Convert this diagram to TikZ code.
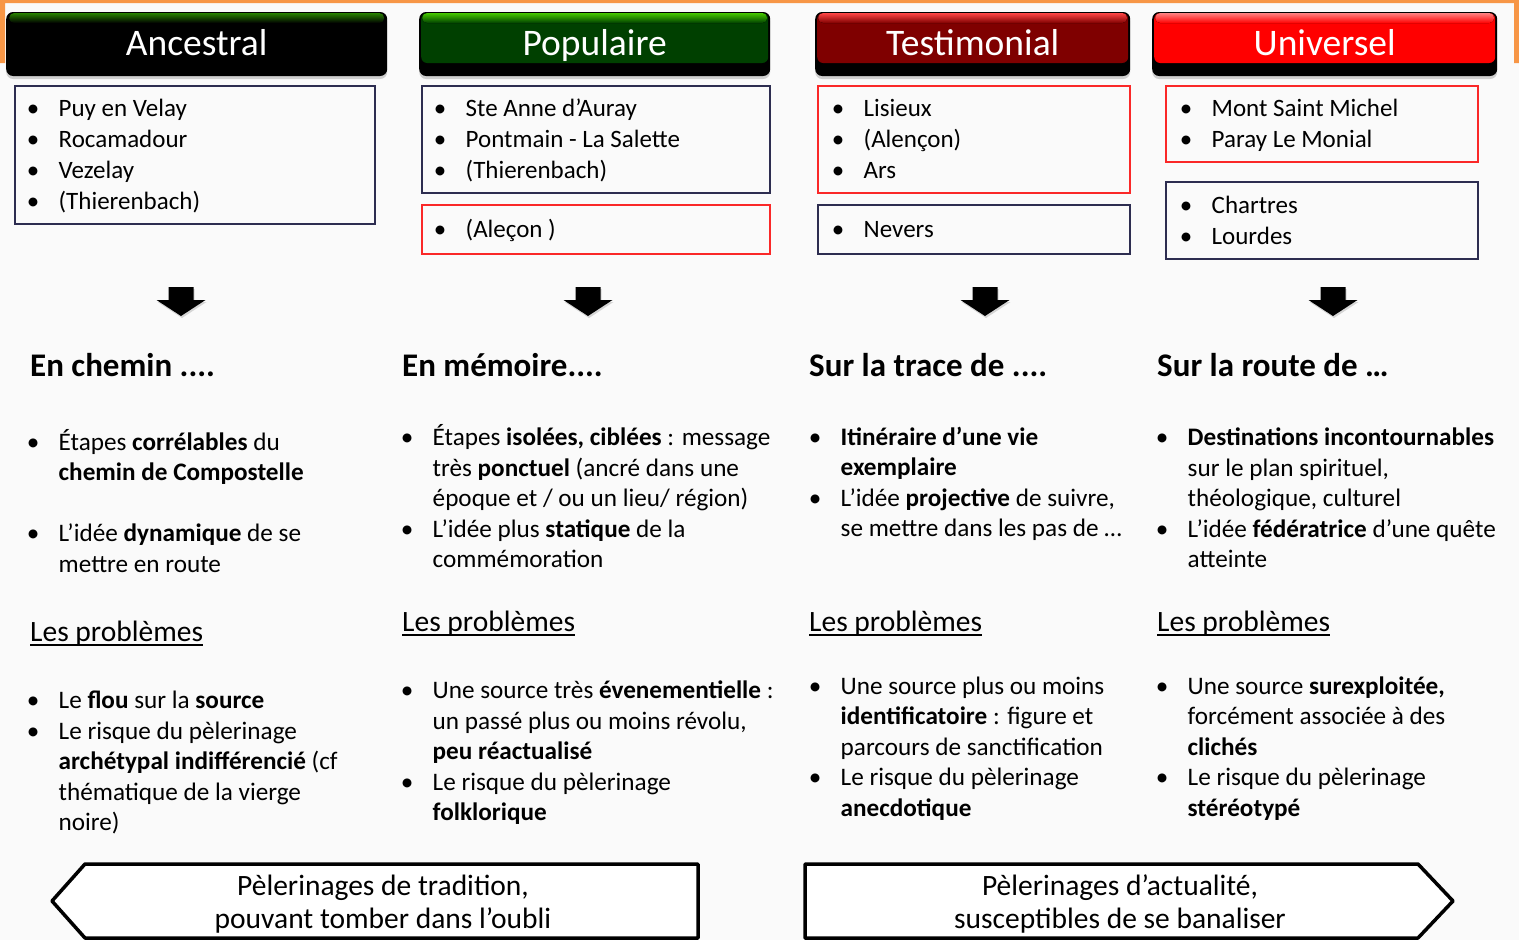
\documentclass[tikz,border=0pt]{standalone}
\usepackage{fontspec}
\setmainfont{Carlito}
\usepackage{xcolor}
\definecolor{frameorange}{RGB}{247,150,70}
\definecolor{slidegray}{RGB}{250,250,250}
\definecolor{boxnavy}{RGB}{45,45,80}
\definecolor{boxred}{RGB}{250,40,40}
\definecolor{ancestralhi}{RGB}{40,130,0}
\definecolor{populairehi}{RGB}{70,200,0}
\definecolor{populairebody}{RGB}{0,64,0}
\definecolor{testimonialhi}{RGB}{255,70,70}
\definecolor{testimonialbody}{RGB}{127,0,0}
\definecolor{universelhi}{RGB}{255,130,130}
\definecolor{universelbody}{RGB}{255,0,0}
\usepackage{tikz}
\usetikzlibrary{shadows}
\newlength{\bulletgap}
\setlength{\bulletgap}{25.5pt}
\newcommand{\itm}{\makebox[\bulletgap][l]{\makebox[0pt]{\textbullet}}}
\newcommand{\lst}[1]{\begin{tabular}{@{}l@{}l@{}}#1\end{tabular}}
\newcommand{\undl}[1]{\setbox0\hbox{#1}\rlap{\rule[-4.5pt]{\wd0}{1.6pt}}\box0}
\newcommand{\hdrfont}{\fontsize{37.5}{40}\selectfont}
\newcommand{\sitefont}{\fontsize{25}{31}\selectfont}
\newcommand{\bodyfont}{\fontsize{25.2}{30.5}\selectfont}
\newcommand{\ttlfont}{\fontsize{33}{36}\selectfont\bfseries}
\newcommand{\prbfont}{\fontsize{29.5}{33}\selectfont}
\newcommand{\bannerfont}{\fontsize{29.5}{33}\selectfont}
\tikzset{
    hdr/.style 2 args={anchor=west, fill=black, rounded corners=7, minimum height=64, inner sep=0,
        text=white, font=\hdrfont, text height=23.5pt, text depth=0pt,
        drop shadow={shadow xshift=0pt, shadow yshift=-3pt, opacity=.35},
        path picture={
            \fill[#2, rounded corners=6]
                ([xshift=2pt,yshift=-1pt]path picture bounding box.north west) rectangle ([xshift=-2pt,yshift=13pt]path picture bounding box.south east);
            \fill[top color=#1, bottom color=#2, rounded corners=5]
                ([xshift=3pt,yshift=-1pt]path picture bounding box.north west) rectangle ([xshift=-3pt,yshift=-11pt]path picture bounding box.north east);
        }},
    site/.style={draw=boxnavy, line width=1.6pt, anchor=north west, inner sep=0},
    sitered/.style={site, draw=boxred},
    sitelist/.style={anchor=west, inner sep=0, font=\sitefont, yshift=-2pt},
    ttl/.style={anchor=west, inner sep=0, font=\ttlfont},
    lst/.style={anchor=west, inner sep=0, font=\bodyfont},
    prb/.style={anchor=base west, inner sep=0, font=\prbfont},
    banner/.style={draw=black, fill=white, line width=3.5pt, line join=round},
    bannertext/.style={align=center, font=\bannerfont, inner sep=0},
    downarrow/.style={fill=black, drop shadow={shadow xshift=1pt, shadow yshift=-2pt, opacity=.3}}
}

\begin{document}
\begin{tikzpicture}[x=1pt, y=-1pt]
              \useasboundingbox (0,0) rectangle (1519,940);
              \fill[slidegray] (0,0) rectangle (1519,940);
              \fill[frameorange] (0,0) rectangle (1519,3) (0,0) rectangle (5,63) (1514,0) rectangle (1519,63);

              \path
                  (6,44) node[hdr={ancestralhi}{black}, minimum width=381] (HA) {Ancestral}
                  (419,44) node[hdr={populairehi}{populairebody}, minimum width=351] (HP) {Populaire}
                  (815,44) node[hdr={testimonialhi}{testimonialbody}, minimum width=315] (HT) {Testimonial}
                  (1152,44) node[hdr={universelhi}{universelbody}, minimum width=345] (HU) {Universel};

              \path
                  (14,85) node[site, minimum width=360, minimum height=138] (BA) {}
                  (421,85) node[site, minimum width=348, minimum height=107] (BP) {}
                  ++(0,119) node[sitered, minimum width=348, minimum height=49] (BP2) {}
                  (817,85) node[sitered, minimum width=312, minimum height=107] (BT) {}
                  ++(0,119) node[site, minimum width=312, minimum height=49] (BT2) {}
                  (1165,85) node[sitered, minimum width=312, minimum height=76] (BU) {}
                  ++(0,96) node[site, minimum width=312, minimum height=77] (BU2) {};

              \node[sitelist] (LA) at ([xshift=19pt]BA.west) {\lst{\itm & Puy en Velay\\ \itm & Rocamadour\\ \itm & Vezelay\\ \itm & (Thierenbach)}};
              \node[sitelist] (LP) at ([xshift=19pt]BP.west) {\lst{\itm & Ste Anne d’Auray\\ \itm & Pontmain - La Salette\\ \itm & (Thierenbach)}};
              \node[sitelist] (LP2) at ([xshift=19pt]BP2.west) {\lst{\itm & (Aleçon )}};
              \node[sitelist] (LT) at ([xshift=21pt]BT.west) {\lst{\itm & Lisieux\\ \itm & (Alençon)\\ \itm & Ars}};
              \node[sitelist] (LT2) at ([xshift=21pt]BT2.west) {\lst{\itm & Nevers}};
              \node[sitelist] (LU) at ([xshift=21pt]BU.west) {\lst{\itm & Mont Saint Michel\\ \itm & Paray Le Monial}};
              \node[sitelist] (LU2) at ([xshift=21pt]BU2.west) {\lst{\itm & Chartres\\ \itm & Lourdes}};

              \foreach \cx in {181,588,985,1333}
                  \fill[downarrow] (\cx-12.5,287) -- (\cx+12.5,287) -- (\cx+12.5,300) -- (\cx+24.5,300)
                      -- (\cx,316) -- (\cx-24.5,300) -- (\cx-12.5,300) -- cycle;

              \path
                  (30,365) node[ttl] (TA) {En chemin ....}
                  ++(3,140) node[lst] (IA) {\lst{\itm & Étapes \textbf{corrélables} du\\ & \textbf{chemin de Compostelle}\\ & \\
                      \itm & L’idée \textbf{dynamique} de se\\ & mettre en route}}
                  ++(-3,136.5) node[prb] (RA) {\undl{Les problèmes}}
                  ++(3,122) node[lst] (QA) {\lst{\itm & Le \textbf{flou} sur la \textbf{source}\\ \itm & Le risque du pèlerinage\\
                      & \textbf{archétypal indifférencié} (cf\\ & thématique de la vierge\\ & noire)}};

              \path
                  (402,365) node[ttl] (TP) {En mémoire....}
                  ++(5,135.5) node[lst] (IP) {\lst{\itm & Étapes \textbf{isolées, ciblées} : message\\ & très \textbf{ponctuel} (ancré dans une\\
                      & époque et / ou un lieu/ région)\\ \itm & L’idée plus \textbf{statique} de la\\ & commémoration}}
                  ++(-5,131) node[prb] (RP) {\undl{Les problèmes}}
                  ++(5,122) node[lst] (QP) {\lst{\itm & Une source très \textbf{évenementielle} :\\ & un passé plus ou moins révolu,\\
                      & \textbf{peu réactualisé}\\ \itm & Le risque du pèlerinage\\ & \textbf{folklorique}}};

              \path
                  (809,365) node[ttl] (TT) {Sur la trace de ....}
                  ++(6,120) node[lst] (IT) {\lst{\itm & \textbf{Itinéraire d’une vie}\\ & \textbf{exemplaire}\\
                      \itm & L’idée \textbf{projective} de suivre,\\ & se mettre dans les pas de …}}
                  ++(-6,146.5) node[prb] (RT) {\undl{Les problèmes}}
                  ++(6,117.5) node[lst] (QT) {\lst{\itm & Une source plus ou moins\\ & \textbf{identificatoire} : figure et\\
                      & parcours de sanctification\\ \itm & Le risque du pèlerinage\\ & \textbf{anecdotique}}};

              \path
                  (1157,365) node[ttl] (TU) {Sur la route de …}
                  ++(5,135.5) node[lst] (IU) {\lst{\itm & \textbf{Destinations incontournables}\\ & sur le plan spirituel,\\
                      & théologique, culturel\\ \itm & L’idée \textbf{fédératrice} d’une quête\\ & atteinte}}
                  ++(-5,131) node[prb] (RU) {\undl{Les problèmes}}
                  ++(5,117.5) node[lst] (QU) {\lst{\itm & Une source \textbf{surexploitée,}\\ & forcément associée à des\\
                      & \textbf{clichés}\\ \itm & Le risque du pèlerinage\\ & \textbf{stéréotypé}}};

              \draw[banner] (85,864) -- (698,864) -- (698,938) -- (85,938) -- (52,901) -- cycle;
              \draw[banner] (805,864) -- (1418,864) -- (1453,901) -- (1418,938) -- (805,938) -- cycle;
              \node[bannertext] (PT) at (383,904) {Pèlerinages de tradition,\\pouvant tomber dans l’oubli};
              \node[bannertext] (PA) at (1120,904) {Pèlerinages d’actualité,\\susceptibles de se banaliser};
            \end{tikzpicture}
\end{document}
